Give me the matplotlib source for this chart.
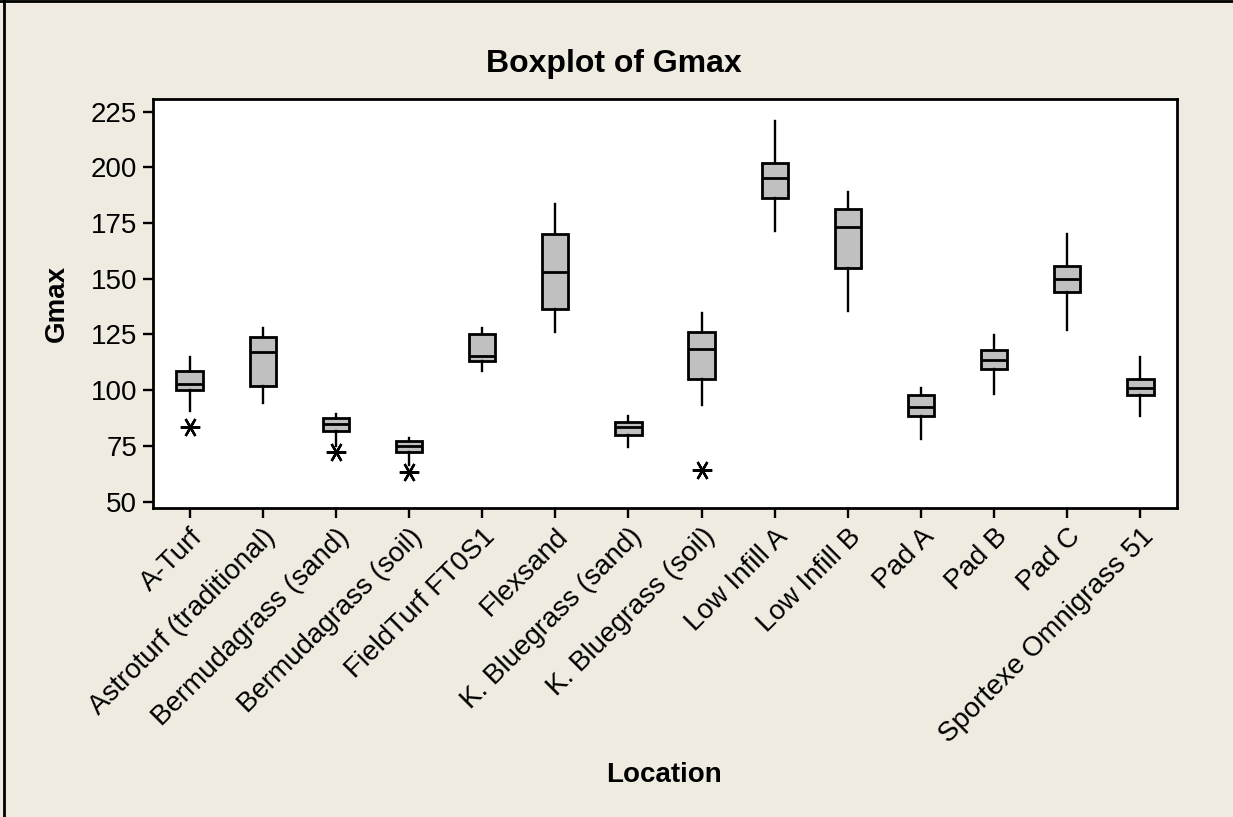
import matplotlib.pyplot as plt
from matplotlib.lines import Line2D

# values (Gmax per location)
locations = [
    "A-Turf", "Astroturf (traditional)", "Bermudagrass (sand)", "Bermudagrass (soil)",
    "FieldTurf FT0S1", "Flexsand", "K. Bluegrass (sand)", "K. Bluegrass (soil)",
    "Low Infill A", "Low Infill B", "Pad A", "Pad B", "Pad C", "Sportexe Omnigrass 51",
]
whisker_low = [90.7, 94.4, 75.0, 66.5, 108.8, 126.0, 74.4, 93.4, 171.2, 135.6, 78.1, 98.2, 126.9, 88.6]
q1 = [100.1, 101.9, 81.9, 72.1, 113.3, 136.6, 79.8, 104.8, 186.4, 154.7, 88.4, 109.5, 144.2, 98.0]
median = [103.0, 117.3, 84.7, 75.1, 115.4, 152.8, 83.7, 118.4, 195.1, 173.0, 92.5, 113.6, 150.1, 101.2]
q3 = [108.6, 124.0, 87.4, 77.0, 125.1, 170.1, 85.6, 126.0, 201.8, 181.5, 98.0, 118.2, 155.6, 104.8]
whisker_high = [115.1, 127.8, 89.2, 78.7, 127.8, 183.4, 88.3, 134.5, 220.8, 189.1, 100.9, 124.9, 170.0, 115.1]
outliers = [[83.4], [], [72.1], [63.5], [], [], [], [64.2], [], [], [], [], [], []]

y_ticks = [50, 75, 100, 125, 150, 175, 200, 225]

bg = "#efebe1"
font = "Liberation Sans"

stats = []
for i, name in enumerate(locations):
    stats.append({
        "label": name,
        "whislo": whisker_low[i],
        "q1": q1[i],
        "med": median[i],
        "q3": q3[i],
        "whishi": whisker_high[i],
        "fliers": outliers[i],
    })

fig = plt.figure(figsize=(12.33, 8.17), dpi=100, facecolor=bg)
ax = fig.add_axes([0.1241, 0.3786, 0.8305, 0.4999])
ax.set_facecolor("white")

ax.bxp(
    stats,
    positions=range(1, len(locations) + 1),
    widths=0.36,
    patch_artist=True,
    showcaps=False,
    boxprops=dict(facecolor="#c0c0c0", edgecolor="black", linewidth=2.0),
    medianprops=dict(color="black", linewidth=2.0),
    whiskerprops=dict(color="black", linewidth=1.7),
    flierprops=dict(marker=(6, 2, 90), markersize=14, markeredgecolor="black",
                    markeredgewidth=1.7, markerfacecolor="none", linestyle="none"),
)

ax.set_xlim(0.5, 14.5)
ax.set_ylim(47.3, 230.5)
ax.set_yticks(y_ticks)
ax.set_xticks(range(1, len(locations) + 1))
ax.set_xticklabels(locations, rotation=45, ha="right", rotation_mode="anchor",
                   fontsize=20, family=font)
for lab in ax.get_yticklabels():
    lab.set_fontsize(20)
    lab.set_family(font)
ax.tick_params(direction="out", length=7.5, width=1.7, colors="black", pad=4)
for sp in ax.spines.values():
    sp.set_linewidth(2.0)

fig.text(0.0462, 0.629, "Gmax", fontsize=20, fontweight="bold", family=font,
         rotation=90, ha="center", va="center")
fig.text(0.5385, 0.0428, "Location", fontsize=20, fontweight="bold", family=font,
         ha="center", va="baseline")
fig.text(0.498, 0.9119, "Boxplot of Gmax", fontsize=23, fontweight="bold",
         family=font, ha="center", va="baseline")

# graph window edge (left and top only)
fig.add_artist(Line2D([0.0035, 0.0035], [0, 1], transform=fig.transFigure,
                      color="black", linewidth=2))
fig.add_artist(Line2D([0, 1], [0.9985, 0.9985], transform=fig.transFigure,
                      color="black", linewidth=2))

fig.savefig("out.png", dpi=100, facecolor=bg)
